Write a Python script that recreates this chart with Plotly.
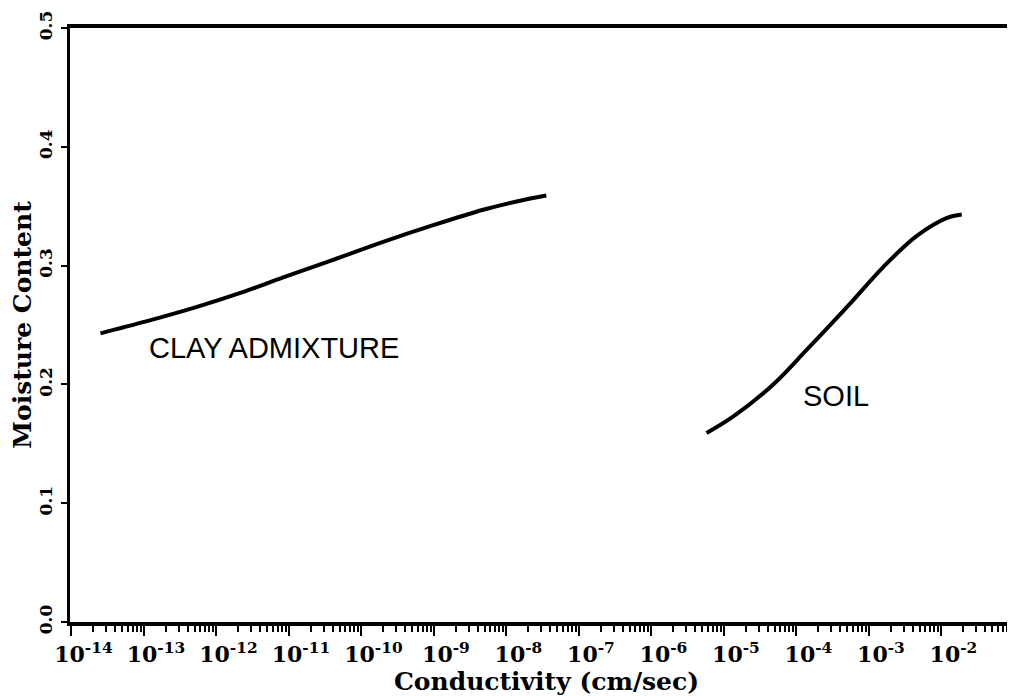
import plotly.graph_objects as go

# Clay admixture curve (log10 conductivity, moisture content)
clay_logk = [-13.60, -12.97, -12.28, -11.67, -11.08, -10.43, -9.70, -9.01, -8.32, -7.86, -7.45]
clay_theta = [0.243, 0.253, 0.265, 0.277, 0.290, 0.304, 0.320, 0.334, 0.347, 0.354, 0.359]

# Soil curve
soil_logk = [-5.24, -4.87, -4.32, -3.86, -3.26, -2.80, -2.34, -1.93, -1.72]
soil_theta = [0.159, 0.173, 0.200, 0.229, 0.268, 0.299, 0.325, 0.340, 0.343]

x_exponents = list(range(-14, -1))
y_ticks = [0.0, 0.1, 0.2, 0.3, 0.4, 0.5]
y_ticklabels = ["0.0", "0.1", "0.2", "0.3", "0.4", "0.5"]

serif = "DejaVu Serif"

fig = go.Figure()
fig.add_trace(go.Scatter(
    x=[10 ** v for v in clay_logk], y=clay_theta, mode="lines",
    line=dict(color="black", width=4, shape="spline"), showlegend=False))
fig.add_trace(go.Scatter(
    x=[10 ** v for v in soil_logk], y=soil_theta, mode="lines",
    line=dict(color="black", width=4, shape="spline"), showlegend=False))

fig.add_annotation(x=-11.2, y=0.231, text="CLAY ADMIXTURE", showarrow=False,
                   font=dict(family="Liberation Sans", size=29, color="black"))
fig.add_annotation(x=-3.46, y=0.190, text="SOIL", showarrow=False,
                   font=dict(family="Liberation Sans", size=29, color="black"))

fig.update_layout(
    width=1015, height=696,
    margin=dict(l=62, r=0, t=20, b=82),
    paper_bgcolor="white", plot_bgcolor="white",
    xaxis=dict(
        type="log", range=[-14.02, -0.875], automargin=False,
        tickvals=[10 ** e for e in x_exponents],
        ticktext=[f"10<sup>{e}</sup>" for e in x_exponents],
        ticks="outside", ticklen=10, tickwidth=2, tickcolor="black",
        minor=dict(ticks="outside", ticklen=6, tickwidth=2, tickcolor="black", dtick="D1"),
        showline=True, linewidth=4, linecolor="black", mirror=True,
        showgrid=False, zeroline=False,
        tickfont=dict(family=serif, size=22, color="black", weight="bold"),
        ticklabelshift=12,
        title=dict(text="Conductivity (cm/sec)", standoff=0,
                   font=dict(family=serif, size=25, color="black", weight="bold")),
    ),
    yaxis=dict(
        range=[0, 0.5], automargin=False,
        tickvals=y_ticks, ticktext=y_ticklabels, tickangle=-90,
        ticks="outside", ticklen=6, tickwidth=2, tickcolor="black",
        showline=True, linewidth=3, linecolor="black",
        showgrid=False, zeroline=False,
        tickfont=dict(family=serif, size=17, color="black", weight="bold"),
        ticklabelstandoff=2,
        title=dict(text="Moisture Content", standoff=6,
                   font=dict(family=serif, size=25, color="black", weight="bold")),
    ),
)

fig.write_html("out.html")
